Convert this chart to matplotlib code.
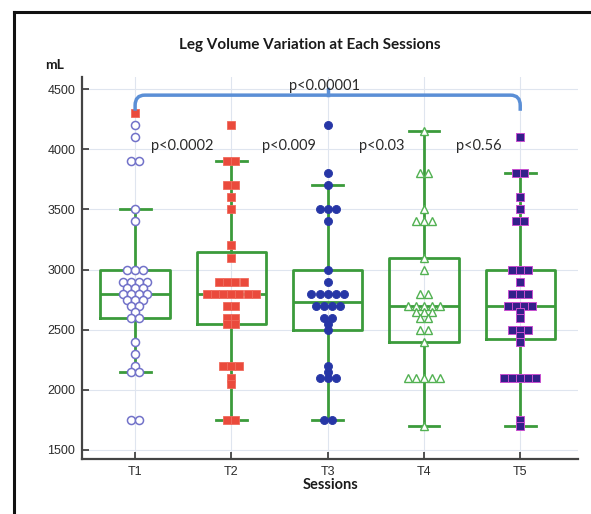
import matplotlib
matplotlib.use("Agg")
import matplotlib.pyplot as plt
from matplotlib.path import Path as MPath
from matplotlib.patches import PathPatch
from matplotlib.lines import Line2D
from collections import Counter

# --- data --------------------------------------------------------------------
sessions = ["T1", "T2", "T3", "T4", "T5"]

t1 = [4200, 4100, 3900, 3900, 3500, 3400, 3000, 3000, 3000, 2900, 2900, 2900, 2900,
      2850, 2850, 2850, 2800, 2800, 2800, 2800, 2750, 2750, 2750, 2700, 2700, 2650,
      2600, 2600, 2400, 2300, 2200, 2150, 2150, 1750, 1750]
t1_flag = [4300]
t2 = [4200, 3900, 3900, 3700, 3700, 3600, 3500, 3200, 3100, 2900, 2900, 2900, 2900,
      2800, 2800, 2800, 2800, 2800, 2800, 2800, 2700, 2700, 2600, 2600, 2550, 2550,
      2200, 2200, 2200, 2100, 2050, 1750, 1750]
t3 = [4200, 3800, 3700, 3500, 3500, 3500, 3400, 3000, 2900, 2800, 2800, 2800, 2800,
      2800, 2700, 2700, 2700, 2700, 2600, 2600, 2550, 2500, 2200, 2150, 2100, 2100,
      2100, 1750, 1750]
t4 = [4150, 3800, 3800, 3500, 3400, 3400, 3400, 3100, 3000, 2800, 2800, 2700, 2700,
      2700, 2700, 2700, 2650, 2650, 2650, 2600, 2600, 2500, 2500, 2400, 2100, 2100,
      2100, 2100, 2100, 1700]
t5 = [4100, 3800, 3800, 3600, 3500, 3400, 3400, 3000, 3000, 3000, 2900, 2800, 2800,
      2800, 2700, 2700, 2700, 2700, 2650, 2600, 2500, 2500, 2500, 2450, 2400, 2100,
      2100, 2100, 2100, 2100, 1750, 1700]

# box statistics as drawn
q1 = [2600, 2550, 2500, 2400, 2420]
med = [2800, 2800, 2730, 2700, 2700]
q3 = [3000, 3150, 3000, 3100, 3000]
whislo = [2150, 1750, 1750, 1700, 1700]
whishi = [3500, 3900, 3700, 4150, 3800]

p_labels = ["p<0.0002", "p<0.009", "p<0.03", "p<0.56"]
p_overall = "p<0.00001"

# --- style -------------------------------------------------------------------
GREEN = "#3b9b3b"
GRID = "#dfe5ef"
AXC = "#444444"
BRACKET = "#5b8fd6"
TXT = "#2b2b2b"
P_X = [1.16, 2.32, 3.33, 4.33]   # left edges of the pairwise p labels

fig = plt.figure(figsize=(5.91, 5.14), dpi=100)
ax = fig.add_axes([0.139, 0.107, 0.839, 0.743])
ax.set_xlim(0.45, 5.6)
ax.set_ylim(1425, 4600)

stats = [dict(q1=a, med=m, q3=b, whislo=lo, whishi=hi, label=s)
         for a, m, b, lo, hi, s in zip(q1, med, q3, whislo, whishi, sessions)]
ax.bxp(stats, positions=range(1, 6), widths=0.72, capwidths=0.32, showfliers=False,
       boxprops=dict(color=GREEN, lw=2), medianprops=dict(color=GREEN, lw=2),
       whiskerprops=dict(color=GREEN, lw=2), capprops=dict(color=GREEN, lw=2))


def swarm(vals, x0, d=0.084):
    xs, ys = [], []
    for v, n in Counter(vals).items():
        for i in range(n):
            xs.append(x0 + (i - (n - 1) / 2) * d)
            ys.append(v)
    return xs, ys


styles = [
    dict(marker="o", ms=5.8, mfc="white", mec="#7272c9", mew=1.1),
    dict(marker="s", ms=5.4, mfc="#ea4a3c", mec="#f06a5c", mew=0.6),
    dict(marker="o", ms=5.8, mfc="#2636a6", mec="#2636a6", mew=0.6),
    dict(marker="^", ms=6.4, mfc="white", mec="#52b152", mew=1.0),
    dict(marker="s", ms=5.2, mfc="#33208a", mec="#c84fd0", mew=0.7),
]
for k, (vals, st) in enumerate(zip([t1, t2, t3, t4, t5], styles)):
    xs, ys = swarm(vals, k + 1)
    ax.plot(xs, ys, ls="none", zorder=4, **st)
xs, ys = swarm(t1_flag, 1)
ax.plot(xs, ys, ls="none", zorder=4, **styles[1])

# grid, spines, ticks
ax.set_yticks([1500, 2000, 2500, 3000, 3500, 4000, 4500])
ax.set_xticks(range(1, 6), sessions)
ax.grid(True, color=GRID, lw=0.8, zorder=0)
ax.set_axisbelow(True)
for s in ["top", "right"]:
    ax.spines[s].set_visible(False)
for s in ["left", "bottom"]:
    ax.spines[s].set_color(AXC)
    ax.spines[s].set_linewidth(1.6)
ax.tick_params(direction="in", length=5, width=1.3, color=AXC, labelcolor=TXT,
               labelsize=9, pad=5)
for lab in ax.get_xticklabels() + ax.get_yticklabels():
    lab.set_family("Liberation Sans")
ax.set_xlabel("Sessions", fontsize=10.5, fontweight="bold", family="Lato", labelpad=0,
              color="#1a1a1a")

# bracket over all sessions
rx, ry = 0.1, 85
y_top, y_end = 4450, 4320
verts = [(1, y_end), (1, y_top - ry), (1, y_top), (1 + rx, y_top), (5 - rx, y_top),
         (5, y_top), (5, y_top - ry), (5, y_end)]
codes = [MPath.MOVETO, MPath.LINETO, MPath.CURVE3, MPath.CURVE3, MPath.LINETO,
         MPath.CURVE3, MPath.CURVE3, MPath.LINETO]
ax.add_patch(PathPatch(MPath(verts, codes), fc="none", ec=BRACKET, lw=2.5, zorder=5))
ax.add_line(Line2D([3, 3], [y_top, 4505], color=BRACKET, lw=2.5, zorder=5))
ax.text(2.97, 4528, p_overall, ha="center", va="center", fontsize=10.5, color=TXT,
        family="Lato", zorder=6)
for px, lab in zip(P_X, p_labels):
    ax.text(px, 4025, lab, ha="left", va="center", fontsize=10.5, color=TXT,
            family="Lato", zorder=6)

# titles
fig.text(0.525, 0.912, "Leg Volume Variation at Each Sessions", ha="center", va="center",
         fontsize=11, fontweight="bold", family="Lato", color="#1a1a1a")
fig.text(0.093, 0.874, "mL", ha="center", va="center", fontsize=10, fontweight="bold",
         family="Lato", color="#1a1a1a")

# outer frame (top and left edges visible)
fig.add_artist(Line2D([0.024, 1.0], [0.977, 0.977], color="#111111", lw=2.2,
                      transform=fig.transFigure))
fig.add_artist(Line2D([0.024, 0.024], [0.0, 0.977], color="#111111", lw=2.2,
                      transform=fig.transFigure))

fig.savefig("out.png", dpi=100)
